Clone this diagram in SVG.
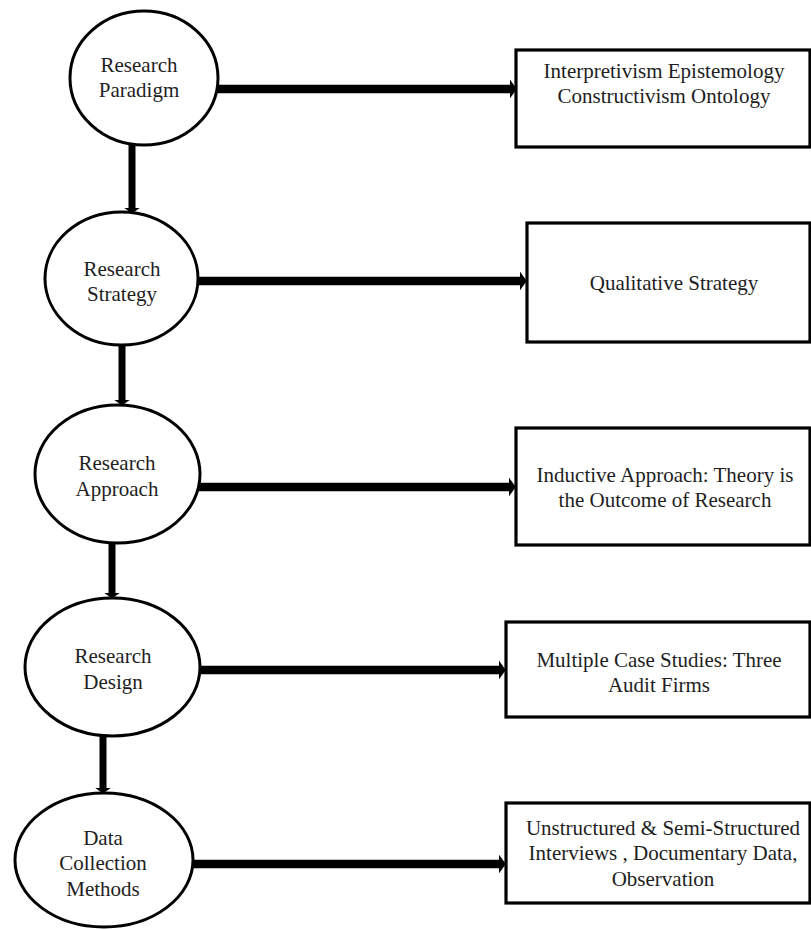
<svg xmlns="http://www.w3.org/2000/svg" width="811" height="930" viewBox="0 0 811 930">
  <defs>
    <marker id="head" viewBox="0 0 8 22" refX="0" refY="11" markerWidth="0.8" markerHeight="2.2" orient="auto" markerUnits="strokeWidth">
      <path d="M0,0 L8,11 L0,22 Z" fill="#000"/>
    </marker>
  </defs>
  <style>
    .stage { fill: #fff; stroke: #000; stroke-width: 3; }
    .result { fill: #fff; stroke: #000; stroke-width: 3.2; }
    .label { font-family: 'Liberation Serif', 'Times New Roman', 'DejaVu Serif', serif; font-size: 21px; fill: #1e1e1e; text-anchor: middle; }
    .flow { fill: none; stroke: #000; stroke-width: 8.5; marker-end: url(#head); }
    .down { fill: none; stroke: #000; stroke-width: 7; marker-end: url(#head); }
  </style>
  <rect width="811" height="930" fill="#fff"/>

  <!-- connectors -->
  <g id="connectors">
    <line class="flow" x1="217" y1="89" x2="510" y2="89"/>
    <line class="flow" x1="197" y1="281" x2="520" y2="281"/>
    <line class="flow" x1="199" y1="487" x2="509" y2="487"/>
    <line class="flow" x1="199" y1="670" x2="499" y2="670"/>
    <line class="flow" x1="192" y1="864" x2="499" y2="864"/>
    <line class="down" x1="132" y1="144" x2="132" y2="208"/>
    <line class="down" x1="122" y1="344" x2="122" y2="400"/>
    <line class="down" x1="112" y1="542" x2="112" y2="593"/>
    <line class="down" x1="103" y1="735" x2="103" y2="788"/>
  </g>

  <!-- stages -->
  <g id="paradigm">
    <ellipse class="stage" cx="144" cy="78" rx="74" ry="67"/>
    <text class="label" x="139" y="72">Research</text>
    <text class="label" x="139" y="97">Paradigm</text>
  </g>
  <g id="strategy">
    <ellipse class="stage" cx="121.5" cy="278.5" rx="76.5" ry="66.5"/>
    <text class="label" x="122" y="276">Research</text>
    <text class="label" x="122" y="301">Strategy</text>
  </g>
  <g id="approach">
    <ellipse class="stage" cx="117.5" cy="474" rx="82.5" ry="69"/>
    <text class="label" x="117" y="470">Research</text>
    <text class="label" x="117" y="496">Approach</text>
  </g>
  <g id="design">
    <ellipse class="stage" cx="112.5" cy="667" rx="87.5" ry="69"/>
    <text class="label" x="113" y="663">Research</text>
    <text class="label" x="113" y="689">Design</text>
  </g>
  <g id="methods">
    <ellipse class="stage" cx="104" cy="860" rx="89" ry="67"/>
    <text class="label" x="103" y="845">Data</text>
    <text class="label" x="103" y="870">Collection</text>
    <text class="label" x="103" y="896">Methods</text>
  </g>

  <!-- outcomes -->
  <g id="philosophy">
    <rect class="result" x="516" y="50" width="294" height="97"/>
    <text class="label" x="664" y="78">Interpretivism Epistemology</text>
    <text class="label" x="664" y="103">Constructivism Ontology</text>
  </g>
  <g id="qualitative">
    <rect class="result" x="527" y="223" width="283" height="119"/>
    <text class="label" x="674" y="290">Qualitative Strategy</text>
  </g>
  <g id="inductive">
    <rect class="result" x="516" y="428" width="294" height="117"/>
    <text class="label" x="665" y="482">Inductive Approach: Theory is</text>
    <text class="label" x="665" y="507">the Outcome of Research</text>
  </g>
  <g id="cases">
    <rect class="result" x="506" y="622" width="304" height="95"/>
    <text class="label" x="659" y="667">Multiple Case Studies: Three</text>
    <text class="label" x="659" y="692">Audit Firms</text>
  </g>
  <g id="data">
    <rect class="result" x="506" y="803" width="304" height="100"/>
    <text class="label" x="663" y="835">Unstructured &amp; Semi-Structured</text>
    <text class="label" x="663" y="860">Interviews , Documentary Data,</text>
    <text class="label" x="663" y="886">Observation</text>
  </g>
</svg>
